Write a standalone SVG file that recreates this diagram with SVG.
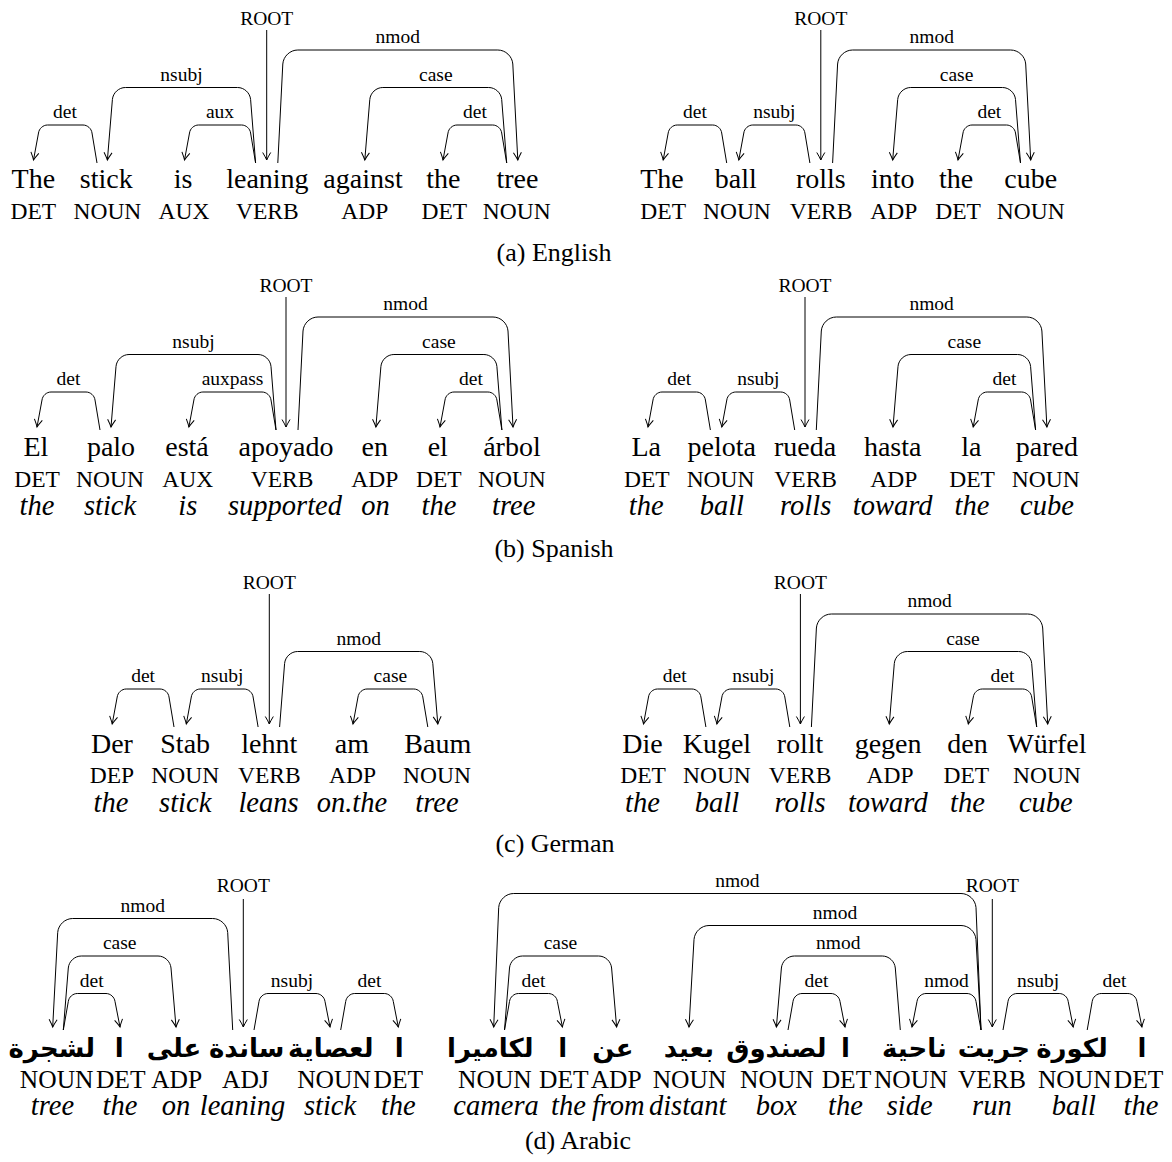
<svg xmlns="http://www.w3.org/2000/svg" width="1172" height="1162" viewBox="0 0 1172 1162">
<defs>
<style>
text { font-family: "Liberation Serif", "Times New Roman", serif; fill: #000; text-anchor: middle; }
.w { font-size: 28px; }
.p { font-size: 23.5px; }
.pa { font-size: 25.5px; }
.g { font-size: 28.5px; font-style: italic; }
.l { font-size: 19.5px; }
.c { font-size: 26px; }
.ar { font-family: "DejaVu Sans", sans-serif; font-weight: bold; font-size: 26px; }
.e { fill: none; stroke: #000; stroke-width: 1; marker-end: url(#ah); }
</style>
<marker id="ah" viewBox="-9 -6 11 12" refX="0" refY="0" markerWidth="11" markerHeight="12" markerUnits="userSpaceOnUse" orient="auto">
<path d="M-7.5,-4 Q-2.5,-1 0,0 Q-2.5,1 -7.5,4" fill="none" stroke="#000" stroke-width="1"/>
</marker>
</defs>
<rect width="1172" height="1162" fill="#fff"/>

<!-- (a) English, left sentence -->
<g id="en1">
<g id="en1-the"><text class="w" x="33.3" y="188">The</text><text class="p" x="33.3" y="218.5">DET</text></g>
<g id="en1-stick"><text class="w" x="106.3" y="188">stick</text><text class="p" x="107.4" y="218.5">NOUN</text></g>
<g id="en1-is"><text class="w" x="183" y="188">is</text><text class="p" x="184" y="218.5">AUX</text></g>
<g id="en1-leaning"><text class="w" x="267.4" y="188">leaning</text><text class="p" x="267.4" y="218.5">VERB</text></g>
<g id="en1-against"><text class="w" x="363" y="188">against</text><text class="p" x="364.8" y="218.5">ADP</text></g>
<g id="en1-the2"><text class="w" x="443.3" y="188">the</text><text class="p" x="444.4" y="218.5">DET</text></g>
<g id="en1-tree"><text class="w" x="517.4" y="188">tree</text><text class="p" x="516.7" y="218.5">NOUN</text></g>
</g>
<g id="en1-edges">
<path class="e" d="M97,163 L92,133 c-.55,-4.4 -4.6,-8 -9,-8 H47.5 c-4.4,0 -8.45,3.6 -9,8 L33.5,160"/>
<path class="e" d="M255.6,163 L250.6,99.5 c-.55,-6.6 -6.4,-12 -13,-12 H125.4 c-6.6,0 -12.45,5.4 -13,12 L107.4,160"/>
<path class="e" d="M255.6,163 L250.6,133 c-.55,-4.4 -4.6,-8 -9,-8 H198.5 c-4.4,0 -8.45,3.6 -9,8 L184.5,160"/>
<path class="e" d="M266.7,30 V160"/>
<path class="e" d="M277.8,163 L282.8,64 c.55,-7.7 7.3,-14 15,-14 H497.8 c7.7,0 14.45,6.3 15,14 L517.8,160"/>
<path class="e" d="M506.7,163 L501.7,99.5 c-.55,-6.6 -6.4,-12 -13,-12 H382.8 c-6.6,0 -12.45,5.4 -13,12 L364.8,160"/>
<path class="e" d="M506.7,163 L501.7,133 c-.55,-4.4 -4.6,-8 -9,-8 H457 c-4.4,0 -8.45,3.6 -9,8 L443,160"/>
<text class="l" x="65" y="118">det</text>
<text class="l" x="181.5" y="80.5">nsubj</text>
<text class="l" x="220" y="118">aux</text>
<text class="l" x="266.7" y="24.5">ROOT</text>
<text class="l" x="397.8" y="43">nmod</text>
<text class="l" x="435.8" y="80.5">case</text>
<text class="l" x="474.9" y="118">det</text>
</g>

<!-- (a) English, right sentence -->
<g id="en2">
<g id="en2-the"><text class="w" x="662" y="188">The</text><text class="p" x="663.2" y="218.5">DET</text></g>
<g id="en2-ball"><text class="w" x="735.8" y="188">ball</text><text class="p" x="736.9" y="218.5">NOUN</text></g>
<g id="en2-rolls"><text class="w" x="820.8" y="188">rolls</text><text class="p" x="821" y="218.5">VERB</text></g>
<g id="en2-into"><text class="w" x="892.7" y="188">into</text><text class="p" x="893.8" y="218.5">ADP</text></g>
<g id="en2-the2"><text class="w" x="956.2" y="188">the</text><text class="p" x="958" y="218.5">DET</text></g>
<g id="en2-cube"><text class="w" x="1030.7" y="188">cube</text><text class="p" x="1030.7" y="218.5">NOUN</text></g>
</g>
<g id="en2-edges">
<path class="e" d="M726.7,163 L721.7,133 c-.55,-4.4 -4.6,-8 -9,-8 H677.2 c-4.4,0 -8.45,3.6 -9,8 L663.2,160"/>
<path class="e" d="M809.9,163 L804.9,133 c-.55,-4.4 -4.6,-8 -9,-8 H752.8 c-4.4,0 -8.45,3.6 -9,8 L738.8,160"/>
<path class="e" d="M820.8,30 V160"/>
<path class="e" d="M832.6,163 L837.6,64 c.55,-7.7 7.3,-14 15,-14 H1010.7 c7.7,0 14.45,6.3 15,14 L1030.7,160"/>
<path class="e" d="M1020.5,163 L1015.5,99.5 c-.55,-6.6 -6.4,-12 -13,-12 H910.7 c-6.6,0 -12.45,5.4 -13,12 L892.7,160"/>
<path class="e" d="M1020.5,163 L1015.5,133 c-.55,-4.4 -4.6,-8 -9,-8 H972 c-4.4,0 -8.45,3.6 -9,8 L958,160"/>
<text class="l" x="695" y="118">det</text>
<text class="l" x="774.4" y="118">nsubj</text>
<text class="l" x="820.8" y="24.5">ROOT</text>
<text class="l" x="931.7" y="43">nmod</text>
<text class="l" x="956.6" y="80.5">case</text>
<text class="l" x="989.3" y="118">det</text>
</g>
<text id="cap-a" class="c" x="554" y="261">(a) English</text>

<!-- (b) Spanish, left sentence -->
<g id="es1">
<g id="es1-el"><text class="w" x="35.9" y="455.5">El</text><text class="p" x="37" y="486.5">DET</text><text class="g" x="37" y="514.5">the</text></g>
<g id="es1-palo"><text class="w" x="111" y="455.5">palo</text><text class="p" x="110" y="486.5">NOUN</text><text class="g" x="110" y="514.5">stick</text></g>
<g id="es1-esta"><text class="w" x="187" y="455.5">está</text><text class="p" x="187.8" y="486.5">AUX</text><text class="g" x="187.8" y="514.5">is</text></g>
<g id="es1-apoyado"><text class="w" x="286" y="455.5">apoyado</text><text class="p" x="282" y="486.5">VERB</text><text class="g" x="285" y="514.5">supported</text></g>
<g id="es1-en"><text class="w" x="374.8" y="455.5">en</text><text class="p" x="374.8" y="486.5">ADP</text><text class="g" x="375.6" y="514.5">on</text></g>
<g id="es1-el2"><text class="w" x="437.8" y="455.5">el</text><text class="p" x="438.9" y="486.5">DET</text><text class="g" x="438.9" y="514.5">the</text></g>
<g id="es1-arbol"><text class="w" x="511.9" y="455.5">árbol</text><text class="p" x="511.9" y="486.5">NOUN</text><text class="g" x="513.7" y="514.5">tree</text></g>
</g>
<g id="es1-edges">
<path class="e" d="M100,430 L95,400 c-.55,-4.4 -4.6,-8 -9,-8 H51 c-4.4,0 -8.45,3.6 -9,8 L37,427"/>
<path class="e" d="M276,430 L271,366.5 c-.55,-6.6 -6.4,-12 -13,-12 H129 c-6.6,0 -12.45,5.4 -13,12 L111,427"/>
<path class="e" d="M276,430 L271,400 c-.55,-4.4 -4.6,-8 -9,-8 H202.9 c-4.4,0 -8.45,3.6 -9,8 L188.9,427"/>
<path class="e" d="M286,297 V427"/>
<path class="e" d="M298,430 L303,331 c.55,-7.7 7.3,-14 15,-14 H493 c7.7,0 14.45,6.3 15,14 L513,427"/>
<path class="e" d="M501.9,430 L496.9,366.5 c-.55,-6.6 -6.4,-12 -13,-12 H393.9 c-6.6,0 -12.45,5.4 -13,12 L375.9,427"/>
<path class="e" d="M501.9,430 L496.9,400 c-.55,-4.4 -4.6,-8 -9,-8 H454 c-4.4,0 -8.45,3.6 -9,8 L440,427"/>
<text class="l" x="68.5" y="385">det</text>
<text class="l" x="193.5" y="347.5">nsubj</text>
<text class="l" x="232.5" y="385">auxpass</text>
<text class="l" x="286" y="291.5">ROOT</text>
<text class="l" x="405.5" y="310">nmod</text>
<text class="l" x="438.9" y="347.5">case</text>
<text class="l" x="471" y="385">det</text>
</g>

<!-- (b) Spanish, right sentence -->
<g id="es2">
<g id="es2-la"><text class="w" x="646.2" y="455.5">La</text><text class="p" x="646.9" y="486.5">DET</text><text class="g" x="646.2" y="514.5">the</text></g>
<g id="es2-pelota"><text class="w" x="721.8" y="455.5">pelota</text><text class="p" x="720.6" y="486.5">NOUN</text><text class="g" x="721.8" y="514.5">ball</text></g>
<g id="es2-rueda"><text class="w" x="805" y="455.5">rueda</text><text class="p" x="805.7" y="486.5">VERB</text><text class="g" x="805.7" y="514.5">rolls</text></g>
<g id="es2-hasta"><text class="w" x="892.7" y="455.5">hasta</text><text class="p" x="893.8" y="486.5">ADP</text><text class="g" x="892.7" y="514.5">toward</text></g>
<g id="es2-la2"><text class="w" x="971.3" y="455.5">la</text><text class="p" x="972" y="486.5">DET</text><text class="g" x="972" y="514.5">the</text></g>
<g id="es2-pared"><text class="w" x="1046.9" y="455.5">pared</text><text class="p" x="1045.8" y="486.5">NOUN</text><text class="g" x="1046.9" y="514.5">cube</text></g>
</g>
<g id="es2-edges">
<path class="e" d="M710.4,430 L705.4,400 c-.55,-4.4 -4.6,-8 -9,-8 H662 c-4.4,0 -8.45,3.6 -9,8 L648,427"/>
<path class="e" d="M794.7,430 L789.7,400 c-.55,-4.4 -4.6,-8 -9,-8 H735.8 c-4.4,0 -8.45,3.6 -9,8 L721.8,427"/>
<path class="e" d="M805,297 V427"/>
<path class="e" d="M816.3,430 L821.3,331 c.55,-7.7 7.3,-14 15,-14 H1026.9 c7.7,0 14.45,6.3 15,14 L1046.9,427"/>
<path class="e" d="M1035.6,430 L1030.6,366.5 c-.55,-6.6 -6.4,-12 -13,-12 H911 c-6.6,0 -12.45,5.4 -13,12 L893,427"/>
<path class="e" d="M1035.6,430 L1030.6,400 c-.55,-4.4 -4.6,-8 -9,-8 H987.2 c-4.4,0 -8.45,3.6 -9,8 L973.2,427"/>
<text class="l" x="679.2" y="385">det</text>
<text class="l" x="758.3" y="385">nsubj</text>
<text class="l" x="805" y="291.5">ROOT</text>
<text class="l" x="931.6" y="310">nmod</text>
<text class="l" x="964.3" y="347.5">case</text>
<text class="l" x="1004.4" y="385">det</text>
</g>
<text id="cap-b" class="c" x="554" y="557">(b) Spanish</text>

<!-- (c) German, left sentence -->
<g id="de1">
<g id="de1-der"><text class="w" x="111.9" y="753">Der</text><text class="p" x="111.9" y="782.5">DEP</text><text class="g" x="111" y="811.5">the</text></g>
<g id="de1-stab"><text class="w" x="185.2" y="753">Stab</text><text class="p" x="185.2" y="782.5">NOUN</text><text class="g" x="185.2" y="811.5">stick</text></g>
<g id="de1-lehnt"><text class="w" x="269.3" y="753">lehnt</text><text class="p" x="269.3" y="782.5">VERB</text><text class="g" x="268.5" y="811.5">leans</text></g>
<g id="de1-am"><text class="w" x="351.9" y="753">am</text><text class="p" x="352.6" y="782.5">ADP</text><text class="g" x="351.9" y="811.5">on.the</text></g>
<g id="de1-baum"><text class="w" x="437.8" y="753">Baum</text><text class="p" x="437" y="782.5">NOUN</text><text class="g" x="437" y="811.5">tree</text></g>
</g>
<g id="de1-edges">
<path class="e" d="M174,727 L169,697 c-.55,-4.4 -4.6,-8 -9,-8 H126.2 c-4.4,0 -8.45,3.6 -9,8 L112.2,724"/>
<path class="e" d="M258.1,727 L253.1,697 c-.55,-4.4 -4.6,-8 -9,-8 H200.3 c-4.4,0 -8.45,3.6 -9,8 L186.3,724"/>
<path class="e" d="M269.3,594 V724"/>
<path class="e" d="M279.6,727 L284.6,663.5 c.55,-6.6 6.4,-12 13,-12 H419.8 c6.6,0 12.45,5.4 13,12 L437.8,724"/>
<path class="e" d="M427.8,727 L422.8,697 c-.55,-4.4 -4.6,-8 -9,-8 H367 c-4.4,0 -8.45,3.6 -9,8 L353,724"/>
<text class="l" x="143.1" y="682">det</text>
<text class="l" x="222.2" y="682">nsubj</text>
<text class="l" x="269.3" y="588.5">ROOT</text>
<text class="l" x="358.7" y="644.5">nmod</text>
<text class="l" x="390.4" y="682">case</text>
</g>

<!-- (c) German, right sentence -->
<g id="de2">
<g id="de2-die"><text class="w" x="642.4" y="753">Die</text><text class="p" x="643.1" y="782.5">DET</text><text class="g" x="642.4" y="811.5">the</text></g>
<g id="de2-kugel"><text class="w" x="716.9" y="753">Kugel</text><text class="p" x="716.9" y="782.5">NOUN</text><text class="g" x="716.9" y="811.5">ball</text></g>
<g id="de2-rollt"><text class="w" x="800" y="753">rollt</text><text class="p" x="800" y="782.5">VERB</text><text class="g" x="800" y="811.5">rolls</text></g>
<g id="de2-gegen"><text class="w" x="888.1" y="753">gegen</text><text class="p" x="890" y="782.5">ADP</text><text class="g" x="887.8" y="811.5">toward</text></g>
<g id="de2-den"><text class="w" x="967.5" y="753">den</text><text class="p" x="966.4" y="782.5">DET</text><text class="g" x="967.5" y="811.5">the</text></g>
<g id="de2-wuerfel"><text class="w" x="1046.9" y="753">Würfel</text><text class="p" x="1046.9" y="782.5">NOUN</text><text class="g" x="1045.8" y="811.5">cube</text></g>
</g>
<g id="de2-edges">
<path class="e" d="M705.9,727 L700.9,697 c-.55,-4.4 -4.6,-8 -9,-8 H657.5 c-4.4,0 -8.45,3.6 -9,8 L643.5,724"/>
<path class="e" d="M789.8,727 L784.8,697 c-.55,-4.4 -4.6,-8 -9,-8 H730.9 c-4.4,0 -8.45,3.6 -9,8 L716.9,724"/>
<path class="e" d="M800.4,594 V724"/>
<path class="e" d="M811.4,727 L816.4,628 c.55,-7.7 7.3,-14 15,-14 H1027.7 c7.7,0 14.45,6.3 15,14 L1047.7,724"/>
<path class="e" d="M1036.7,727 L1031.7,663.5 c-.55,-6.6 -6.4,-12 -13,-12 H907.3 c-6.6,0 -12.45,5.4 -13,12 L889.3,724"/>
<path class="e" d="M1036.7,727 L1031.7,697 c-.55,-4.4 -4.6,-8 -9,-8 H982.3 c-4.4,0 -8.45,3.6 -9,8 L968.3,724"/>
<text class="l" x="674.7" y="682">det</text>
<text class="l" x="753.4" y="682">nsubj</text>
<text class="l" x="800.4" y="588.5">ROOT</text>
<text class="l" x="929.6" y="607">nmod</text>
<text class="l" x="963" y="644.5">case</text>
<text class="l" x="1002.5" y="682">det</text>
</g>
<text id="cap-c" class="c" x="555" y="852">(c) German</text>

<!-- (d) Arabic, left sentence -->
<g id="ar1">
<g id="ar1-tree"><text class="ar" x="51.7" y="1057">لشجرة</text><text class="pa" x="56.7" y="1088">NOUN</text><text class="g" x="52.5" y="1115">tree</text></g>
<g id="ar1-the"><text class="ar" x="119.3" y="1057">ا</text><text class="pa" x="120.7" y="1088">DET</text><text class="g" x="120" y="1115">the</text></g>
<g id="ar1-on"><text class="ar" x="174" y="1057">على</text><text class="pa" x="176.7" y="1088">ADP</text><text class="g" x="176" y="1115">on</text></g>
<g id="ar1-leaning"><text class="ar" x="246.7" y="1057">ساندة</text><text class="pa" x="245.5" y="1088">ADJ</text><text class="g" x="242.5" y="1115">leaning</text></g>
<g id="ar1-stick"><text class="ar" x="330.8" y="1057">لعصاية</text><text class="pa" x="334" y="1088">NOUN</text><text class="g" x="330" y="1115">stick</text></g>
<g id="ar1-the2"><text class="ar" x="399.3" y="1057">ا</text><text class="pa" x="398.3" y="1088">DET</text><text class="g" x="398.3" y="1115">the</text></g>
</g>
<g id="ar1-edges">
<path class="e" d="M232.7,1030 L227.7,932.5 c-.55,-7.7 -7.3,-14 -15,-14 H72.7 c-7.7,0 -14.45,6.3 -15,14 L52.7,1027"/>
<path class="e" d="M63.3,1030 L68.3,968 c.55,-6.6 6.4,-12 13,-12 H158 c6.6,0 12.45,5.4 13,12 L176,1027"/>
<path class="e" d="M63.3,1030 L68.3,1001.5 c.55,-4.4 4.6,-8 9,-8 H106 c4.4,0 8.45,3.6 9,8 L120,1027"/>
<path class="e" d="M243.3,899 V1027"/>
<path class="e" d="M254,1030 L259,1001.5 c.55,-4.4 4.6,-8 9,-8 H316 c4.4,0 8.45,3.6 9,8 L330,1027"/>
<path class="e" d="M340.7,1030 L345.7,1001.5 c.55,-4.4 4.6,-8 9,-8 H384.3 c4.4,0 8.45,3.6 9,8 L398.3,1027"/>
<text class="l" x="142.7" y="911.5">nmod</text>
<text class="l" x="119.7" y="949">case</text>
<text class="l" x="91.7" y="986.5">det</text>
<text class="l" x="243.3" y="892.3">ROOT</text>
<text class="l" x="292" y="986.5">nsubj</text>
<text class="l" x="369.5" y="986.5">det</text>
</g>

<!-- (d) Arabic, right sentence -->
<g id="ar2">
<g id="ar2-camera"><text class="ar" x="490.2" y="1057">لكاميرا</text><text class="pa" x="494.9" y="1088">NOUN</text><text class="g" x="496.1" y="1115">camera</text></g>
<g id="ar2-the"><text class="ar" x="562.7" y="1057">ا</text><text class="pa" x="563.8" y="1088">DET</text><text class="g" x="568.5" y="1115">the</text></g>
<g id="ar2-from"><text class="ar" x="612.9" y="1057">عن</text><text class="pa" x="616.2" y="1088">ADP</text><text class="g" x="618.3" y="1115">from</text></g>
<g id="ar2-distant"><text class="ar" x="688.9" y="1057">بعيد</text><text class="pa" x="689.5" y="1088">NOUN</text><text class="g" x="687.7" y="1115">distant</text></g>
<g id="ar2-box"><text class="ar" x="776.4" y="1057">لصندوق</text><text class="pa" x="776.9" y="1088">NOUN</text><text class="g" x="776.4" y="1115">box</text></g>
<g id="ar2-the2"><text class="ar" x="845.4" y="1057">ا</text><text class="pa" x="846.5" y="1088">DET</text><text class="g" x="845.4" y="1115">the</text></g>
<g id="ar2-side"><text class="ar" x="914.4" y="1057">ناحية</text><text class="pa" x="910.8" y="1088">NOUN</text><text class="g" x="909.7" y="1115">side</text></g>
<g id="ar2-run"><text class="ar" x="993.8" y="1057">جريت</text><text class="pa" x="991.9" y="1088">VERB</text><text class="g" x="991.9" y="1115">run</text></g>
<g id="ar2-ball"><text class="ar" x="1072" y="1057">لكورة</text><text class="pa" x="1074.8" y="1088">NOUN</text><text class="g" x="1073.8" y="1115">ball</text></g>
<g id="ar2-the3"><text class="ar" x="1142" y="1057">ا</text><text class="pa" x="1138.6" y="1088">DET</text><text class="g" x="1141" y="1115">the</text></g>
</g>
<g id="ar2-edges">
<path class="e" d="M981,1030 L976,907.5 c-.55,-7.7 -7.3,-14 -15,-14 H513.7 c-7.7,0 -14.45,6.3 -15,14 L493.7,1027"/>
<path class="e" d="M981,1030 L976,939.5 c-.55,-7.7 -7.3,-14 -15,-14 H709 c-7.7,0 -14.45,6.3 -15,14 L689,1027"/>
<path class="e" d="M900.3,1030 L895.3,968 c-.55,-6.6 -6.4,-12 -13,-12 H794.4 c-6.6,0 -12.45,5.4 -13,12 L776.4,1027"/>
<path class="e" d="M981,1030 L976,1001.5 c-.55,-4.4 -4.6,-8 -9,-8 H926 c-4.4,0 -8.45,3.6 -9,8 L912,1027"/>
<path class="e" d="M788,1030 L793,1001.5 c.55,-4.4 4.6,-8 9,-8 H831 c4.4,0 8.45,3.6 9,8 L845,1027"/>
<path class="e" d="M504.5,1030 L509.5,968 c.55,-6.6 6.4,-12 13,-12 H598.6 c6.6,0 12.45,5.4 13,12 L616.6,1027"/>
<path class="e" d="M504.5,1030 L509.5,1001.5 c.55,-4.4 4.6,-8 9,-8 H548.4 c4.4,0 8.45,3.6 9,8 L562.4,1027"/>
<path class="e" d="M992.3,899 V1027"/>
<path class="e" d="M1003,1030 L1008,1001.5 c.55,-4.4 4.6,-8 9,-8 H1059.2 c4.4,0 8.45,3.6 9,8 L1073.2,1027"/>
<path class="e" d="M1087.2,1030 L1092.2,1001.5 c.55,-4.4 4.6,-8 9,-8 H1127.9 c4.4,0 8.45,3.6 9,8 L1141.9,1027"/>
<text class="l" x="737.4" y="887">nmod</text>
<text class="l" x="835" y="918.5">nmod</text>
<text class="l" x="838.3" y="949">nmod</text>
<text class="l" x="946.5" y="986.5">nmod</text>
<text class="l" x="816.5" y="986.5">det</text>
<text class="l" x="560.5" y="949">case</text>
<text class="l" x="533.5" y="986.5">det</text>
<text class="l" x="992.3" y="891.5">ROOT</text>
<text class="l" x="1038.1" y="986.5">nsubj</text>
<text class="l" x="1114.5" y="986.5">det</text>
</g>
<text id="cap-d" class="c" x="578" y="1149">(d) Arabic</text>
</svg>
